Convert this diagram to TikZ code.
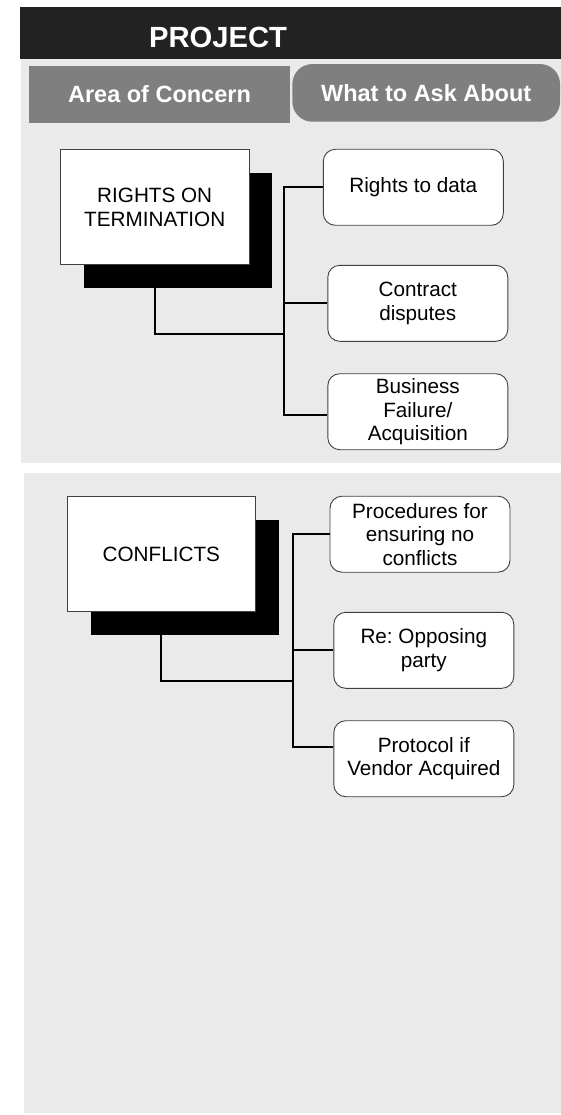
\documentclass[tikz,border=0pt]{standalone}
\usepackage{fontspec}
\setmainfont{Liberation Sans}
\usetikzlibrary{shadows}
\definecolor{barblack}{HTML}{222222}
\definecolor{panelgrey}{HTML}{EAEAEA}
\definecolor{headgrey}{HTML}{7F7F7F}
\begin{document}
\begin{tikzpicture}[x=1pt,y=-1pt,
    head/.style={fill=headgrey,text=white,inner sep=0pt,font=\fontsize{23.5}{26}\selectfont\bfseries},
    topic/.style={draw=black!75,line width=0.9pt,fill=white,minimum width=188.5pt,minimum height=115pt,
        align=center,font=\fontsize{20.7}{23.6}\selectfont,
        drop shadow={shadow xshift=23.5pt,shadow yshift=-23pt,fill=black,opacity=1}},
    item/.style={draw=black!75,line width=0.9pt,fill=white,rounded corners=12pt,minimum width=180pt,
        minimum height=76pt,inner sep=2pt,align=center,font=\fontsize{20.7}{23.6}\selectfont},
    link/.style={line width=1.9pt}]
    \useasboundingbox (0,0) rectangle (561,1115);
    \fill[barblack] (20,7.3) rectangle (561,59.3);
    \fill[panelgrey] (21,59.3) rectangle (561,462.7);
    \fill[panelgrey] (24,473.3) rectangle (561,1113.3);
    \node[text=white,font=\fontsize{29.2}{32}\selectfont\bfseries] (title) at (218,37) {PROJECT};
    \node[head,minimum width=261pt,minimum height=56.7pt] (area) at (159.5,94.3) {Area of Concern};
    \node[head,rounded corners=20pt,minimum width=267.7pt,minimum height=57.7pt] (ask) at (426.2,92.9) {What to Ask About};

    \node[topic] (rights) at (154.7,207.3) {RIGHTS ON\\TERMINATION};
    \node[item] (data) at (413.3,187.3) {Rights to data};
    \node[item] (disp) at (417.8,303.3) {Contract\\disputes};
    \node[item] (fail) at (417.8,411.7) {Business\\Failure/\\Acquisition};
    \coordinate (join1) at (284,334);
    \draw[link] (rights.south) |- (join1);
    \draw[link] (data.west) -| (join1) |- ([yshift=-3pt]fail.west);
    \draw[link] (disp.west) -- (disp.west -| join1);

    \node[topic] (confl) at (161.3,554.2) {CONFLICTS};
    \node[item] (proc) at (420,534.2) {Procedures for\\ensuring no\\conflicts};
    \node[item] (oppo) at (423.8,650.3) {Re:\ Opposing\\party};
    \node[item] (proto) at (423.8,758.7) {Protocol if\\Vendor Acquired};
    \coordinate (join2) at (293,681);
    \draw[link] (confl.south) |- (join2);
    \draw[link] (proc.west) -| (join2) |- ([yshift=12pt]proto.west);
    \draw[link] (oppo.west) -- (oppo.west -| join2);
\end{tikzpicture}
\end{document}
